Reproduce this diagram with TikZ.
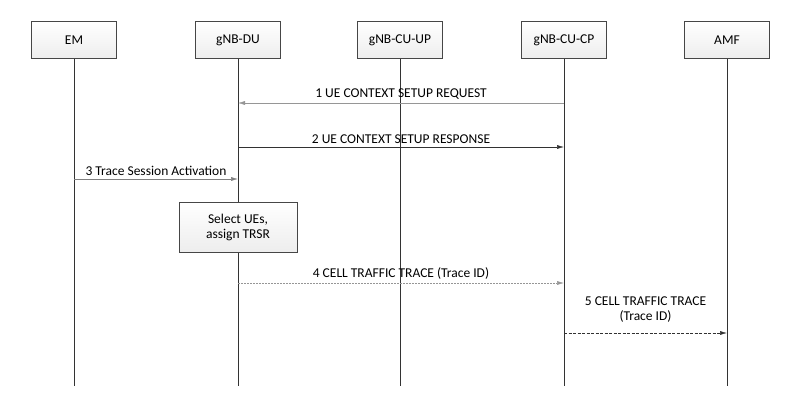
\documentclass[tikz,border=0pt]{standalone}
\usepackage{fontspec}
\setmainfont{Carlito}
\usetikzlibrary{arrows.meta}
\definecolor{boxline}{RGB}{70,70,70}
\definecolor{msgdark}{RGB}{50,50,50}
\definecolor{msglight}{RGB}{150,150,150}

\begin{document}
\begin{tikzpicture}[x=1pt, y=-1pt, font=\fontsize{13.5}{15}\selectfont,
    entity/.style={draw=boxline, top color=white, bottom color=gray!14, minimum width=85pt, minimum height=37pt, inner sep=2pt},
    lifeline/.style={draw=black!80, line width=0.6pt},
    msg/.style={-{Latex[length=7pt, width=4pt]}, line width=0.5pt, draw=msgdark},
    lbl/.style={above=2pt, inner sep=1pt, text=black}]
    \useasboundingbox (0,0) rectangle (810,400);

    % Entities and their lifelines
    \foreach \n/\x/\t in {em/74/EM, du/238/gNB-DU, cuup/400/gNB-CU-UP, cucp/564/gNB-CU-CP, amf/727/AMF} {
        \node[entity] (\n) at (\x, 40) {\t};
        \coordinate (\n-end) at (\x, 386);
        \draw[lifeline] (\n.south) -- (\n-end);
    }

    % Messages
    \draw[msg, draw=msglight] (cucp |- 0,103) -- node[lbl] {1 UE CONTEXT SETUP REQUEST} (du |- 0,103);
    \draw[msg] (du |- 0,147) -- node[lbl] {2 UE CONTEXT SETUP RESPONSE} (cucp |- 0,147);
    \draw[msg, draw=gray] (em |- 0,179) -- node[lbl] {3 Trace Session Activation} (du |- 0,179);

    % Local action at gNB-DU
    \node[entity, minimum width=118pt, minimum height=50pt, align=center] (select) at (238, 227) {Select UEs,\\assign TRSR};

    \draw[msg, draw=msglight, dash pattern=on 2pt off 1pt] (du |- 0,283) -- node[lbl] {4 CELL TRAFFIC TRACE (Trace ID)} (cucp |- 0,283);
    \draw[msg, dash pattern=on 3pt off 1.5pt] (cucp |- 0,333) -- node[lbl, above=7pt, align=center] {5 CELL TRAFFIC TRACE\\(Trace ID)} (amf |- 0,333);
\end{tikzpicture}
\end{document}
